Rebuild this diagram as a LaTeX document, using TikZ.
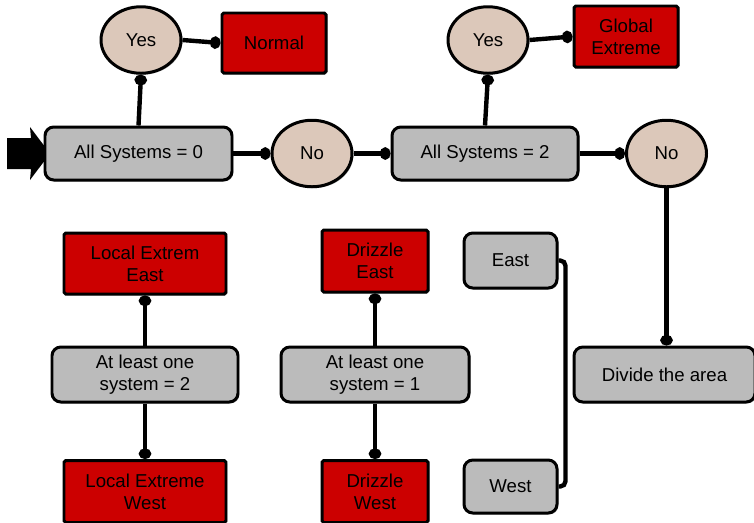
\documentclass[tikz,border=0pt]{standalone}
\usepackage{fontspec}
\setmainfont{Liberation Sans}
\usepackage{xcolor}
\usepackage{tikz}
\usetikzlibrary{shapes.geometric, arrows.meta, shadows}
\definecolor{BoxGray}{HTML}{BBBBBB}
\definecolor{BoxRed}{HTML}{CC0000}
\definecolor{BallBeige}{HTML}{DCC8BA}

\begin{document}
\begin{tikzpicture}[
  test/.style={draw, line width=1.7pt, rounded corners=5pt, fill=BoxGray, minimum height=1.06cm, align=center,
    font=\fontsize{10.6}{12.6}\selectfont, drop shadow={shadow xshift=0.8pt, shadow yshift=-0.8pt, opacity=0.6}},
  result/.style={draw, line width=1.7pt, rounded corners=1pt, fill=BoxRed, align=center,
    font=\fontsize{10.6}{12.6}\selectfont, drop shadow={shadow xshift=0.8pt, shadow yshift=-0.8pt, opacity=0.6}},
  answer/.style={draw, ellipse, line width=1.7pt, fill=BallBeige, minimum width=1.6cm, minimum height=1.33cm,
    font=\fontsize{10.6}{12.6}\selectfont, drop shadow={shadow xshift=0.8pt, shadow yshift=-0.8pt, opacity=0.6}},
  link/.style={line width=2.5pt, -{Circle[length=6pt, width=7pt]}},
  brace/.style={line width=2.5pt, rounded corners=3pt}
]
\useasboundingbox (0,0) rectangle (15.08,-10.44);

% Start marker
\fill (0.14,-2.76) -- (0.62,-2.76) -- (0.6,-2.54) -- (1.0,-3.07) -- (0.6,-3.60) -- (0.62,-3.38) -- (0.14,-3.38) -- cycle;

% Top row
\node[test, minimum width=3.74cm] (sys0) at (2.77,-3.07) {All Systems = 0};
\node[answer] (yes0) at (2.82,-0.80) {Yes};
\node[result, minimum width=2.08cm, minimum height=1.20cm] (normal) at (5.48,-0.86) {Normal};
\node[answer] (no0) at (6.24,-3.07) {No};
\node[test, minimum width=3.72cm] (sys2) at (9.70,-3.07) {All Systems = 2};
\node[answer] (yes2) at (9.76,-0.80) {Yes};
\node[result, minimum width=2.08cm, minimum height=1.22cm] (glob) at (12.52,-0.73) {Global\\Extreme};
\node[answer] (no2) at (13.33,-3.07) {No};
\node[test, minimum width=3.62cm, minimum height=1.10cm] (divide) at (13.29,-7.49) {Divide the area};

% Bottom groups
\node[result, minimum width=3.24cm, minimum height=1.22cm] (lee) at (2.90,-5.27) {Local Extrem\\East};
\node[test, minimum width=3.72cm, minimum height=1.10cm] (al2) at (2.90,-7.49) {At least one\\system = 2};
\node[result, minimum width=3.24cm, minimum height=1.24cm] (lew) at (2.90,-9.83) {Local Extreme\\West};
\node[result, minimum width=2.12cm, minimum height=1.24cm] (de) at (7.50,-5.22) {Drizzle\\East};
\node[test, minimum width=3.76cm, minimum height=1.10cm] (al1) at (7.50,-7.49) {At least one\\system = 1};
\node[result, minimum width=2.12cm, minimum height=1.24cm] (dw) at (7.50,-9.83) {Drizzle\\West};
\node[test, minimum width=1.86cm, minimum height=1.10cm] (east) at (10.21,-5.21) {East};
\node[test, minimum width=1.86cm, minimum height=1.06cm] (west) at (10.21,-9.73) {West};

% Links
\foreach \a/\b in {sys0.north/yes0.south, yes0.east/normal.west, sys0.east/no0.west, no0.east/sys2.west,
  sys2.north/yes2.south, yes2.east/glob.west, sys2.east/no2.west,
  al2.north/lee.south, al2.south/lew.north, al1.north/de.south, al1.south/dw.north} {
  \draw[link] (\a) -- (\b);
}
\draw[link] (no2.south) -- (no2.south |- divide.north);

% East / West bracket
\draw[brace] (east.east) -- ++(0.14,0) coordinate (bk) |- (west.east);
\end{tikzpicture}
\end{document}
